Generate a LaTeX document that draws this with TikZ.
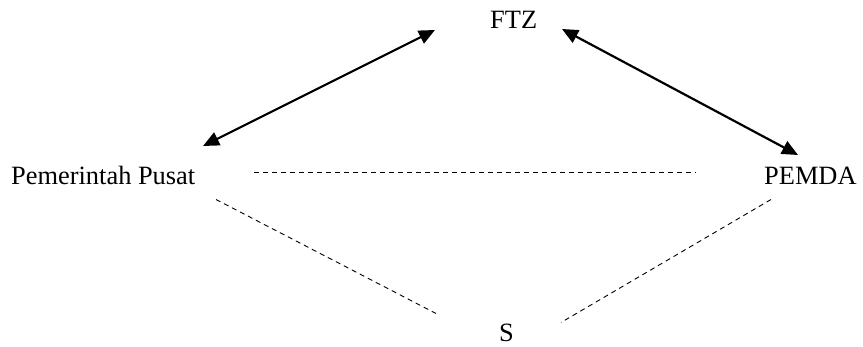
\documentclass[tikz,border=0pt]{standalone}
\usepackage{fontspec}
\setmainfont{Liberation Serif}
\usetikzlibrary{arrows.meta}
\begin{document}
\begin{tikzpicture}[x=1pt,y=-1pt,
  lbl/.style={inner sep=0pt,anchor=base west,font=\fontsize{26.4}{30}\selectfont},
  twoway/.style={line width=2.2pt,{Triangle[length=16pt,width=14pt]}-{Triangle[length=16pt,width=14pt]}},
  weak/.style={line width=0.9pt,dash pattern=on 5pt off 4pt}]
\useasboundingbox (0,0) rectangle (863,347);
\node[lbl] (ftz) at (490,29) {FTZ};
\node[lbl] (pusat) at (11,185) {Pemerintah Pusat};
\node[lbl] (pemda) at (764,184.5) {PEMDA};
\node[lbl] (s) at (499,342) {S};
% arrow end points
\coordinate (a1) at (203,146);
\coordinate (a2) at (435,30);
\coordinate (b1) at (562,29);
\coordinate (b2) at (798,155);
% dashed end points
\coordinate (h1) at (254,172);
\coordinate (h2) at (696,172);
\coordinate (l1) at (216,199.5);
\coordinate (l2) at (436,313.5);
\coordinate (r1) at (771,199.5);
\coordinate (r2) at (561,322.5);
\draw[twoway] (a1) -- (a2);
\draw[twoway] (b1) -- (b2);
\draw[weak] (h1) -- (h2);
\draw[weak] (l1) -- (l2);
\draw[weak] (r1) -- (r2);
\end{tikzpicture}
\end{document}
